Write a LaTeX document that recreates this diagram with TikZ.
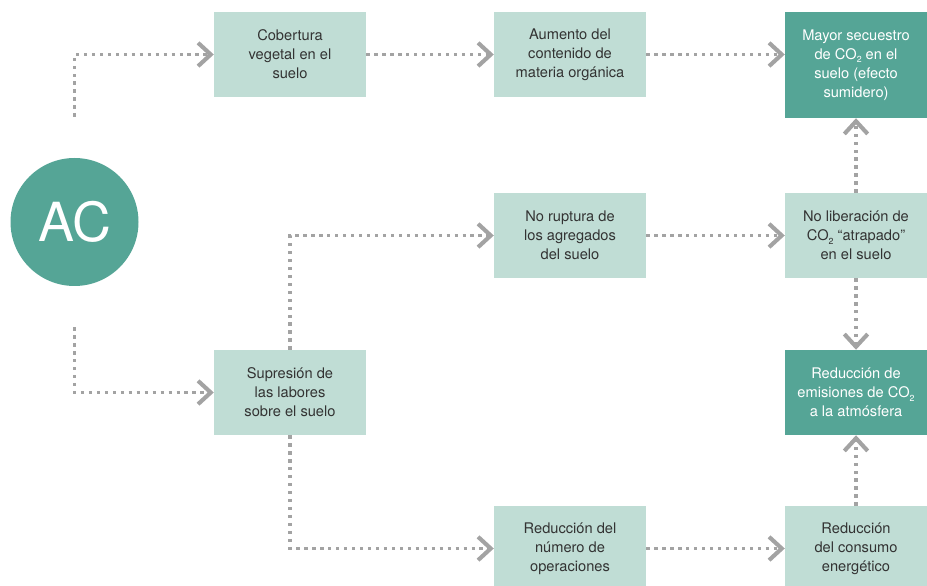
\documentclass[tikz,border=0pt]{standalone}
\usepackage{fontspec}
\setmainfont{TeX Gyre Heros}
\usepackage{xcolor}
\usepackage{tikz}
\usetikzlibrary{arrows.meta, positioning}

\definecolor{boxlight}{HTML}{C0DDD5}
\definecolor{boxdark}{HTML}{55A596}
\definecolor{boxtext}{HTML}{333333}
\definecolor{flowgray}{HTML}{A3A3A3}

\newcommand{\cotwo}{CO\raisebox{-0.45ex}{\fontsize{7.5}{7.5}\selectfont 2}}

\tikzset{
  stepbox/.style={
    rectangle, fill=boxlight, text=boxtext, align=center,
    minimum width=4.56cm, minimum height=2.55cm, inner sep=2pt,
    font=\fontsize{12.5}{16.2}\selectfont
  },
  resultbox/.style={
    stepbox, fill=boxdark, text=white, minimum width=4.26cm
  },
  flowarrow/.style={
    draw=flowgray, line width=2.9pt, dash pattern=on 2.9pt off 3.9pt,
    -{Straight Barb[length=3.8mm, width=7mm, line width=3.5pt]}
  },
}

\begin{document}
\begin{tikzpicture}
  \useasboundingbox (0,0) rectangle (27.81,17.55);

  % ── starting point ──
  \node[circle, fill=boxdark, text=white, minimum size=3.84cm,
    font=\fontsize{46}{46}\selectfont] (ac) at (2.235, 10.89) {AC};

  % ── top row ──
  \node[stepbox] (cob) at (8.70, 15.915) {Cobertura\\vegetal en el\\suelo};
  \node[stepbox] (aum) at (17.10, 15.915) {Aumento del\\contenido de\\materia orgánica};
  \node[resultbox, minimum height=3.18cm] (may) at (25.68, 15.60)
    {Mayor secuestro\\de \cotwo{} en el\\suelo (efecto\\sumidero)};

  % ── middle rows ──
  \node[stepbox] (rup) at (17.10, 10.485) {No ruptura de\\los agregados\\del suelo};
  \node[stepbox, minimum width=4.26cm] (lib) at (25.68, 10.485)
    {No liberación de\\\cotwo{} “atrapado”\\en el suelo};
  \node[stepbox] (sup) at (8.70, 5.775) {Supresión de\\las labores\\sobre el suelo};
  \node[resultbox] (emi) at (25.68, 5.775)
    {Reducción de\\emisiones de \cotwo\\a la atmósfera};

  % ── bottom row ──
  \node[stepbox] (num) at (17.10, 1.095) {Reducción del\\número de\\operaciones};
  \node[stepbox, minimum width=4.26cm] (con) at (25.68, 1.095)
    {Reducción\\del consumo\\energético};

  % ── connectors ──
  \draw[flowarrow] ([yshift=1.23cm]ac.north) |- (cob.west);
  \draw[flowarrow] ([yshift=-1.23cm]ac.south) |- (sup.west);
  \draw[flowarrow] (cob.east) -- (aum.west);
  \draw[flowarrow] (aum.east) -- (aum.east -| may.west);
  \draw[flowarrow] (sup.north) |- (rup.west);
  \draw[flowarrow] (sup.south) |- (num.west);
  \draw[flowarrow] (rup.east) -- (lib.west);
  \draw[flowarrow] (num.east) -- (con.west);
  \draw[flowarrow] (lib.north) -- (may.south);
  \draw[flowarrow] (lib.south) -- (emi.north);
  \draw[flowarrow] (con.north) -- (emi.south);
\end{tikzpicture}
\end{document}
